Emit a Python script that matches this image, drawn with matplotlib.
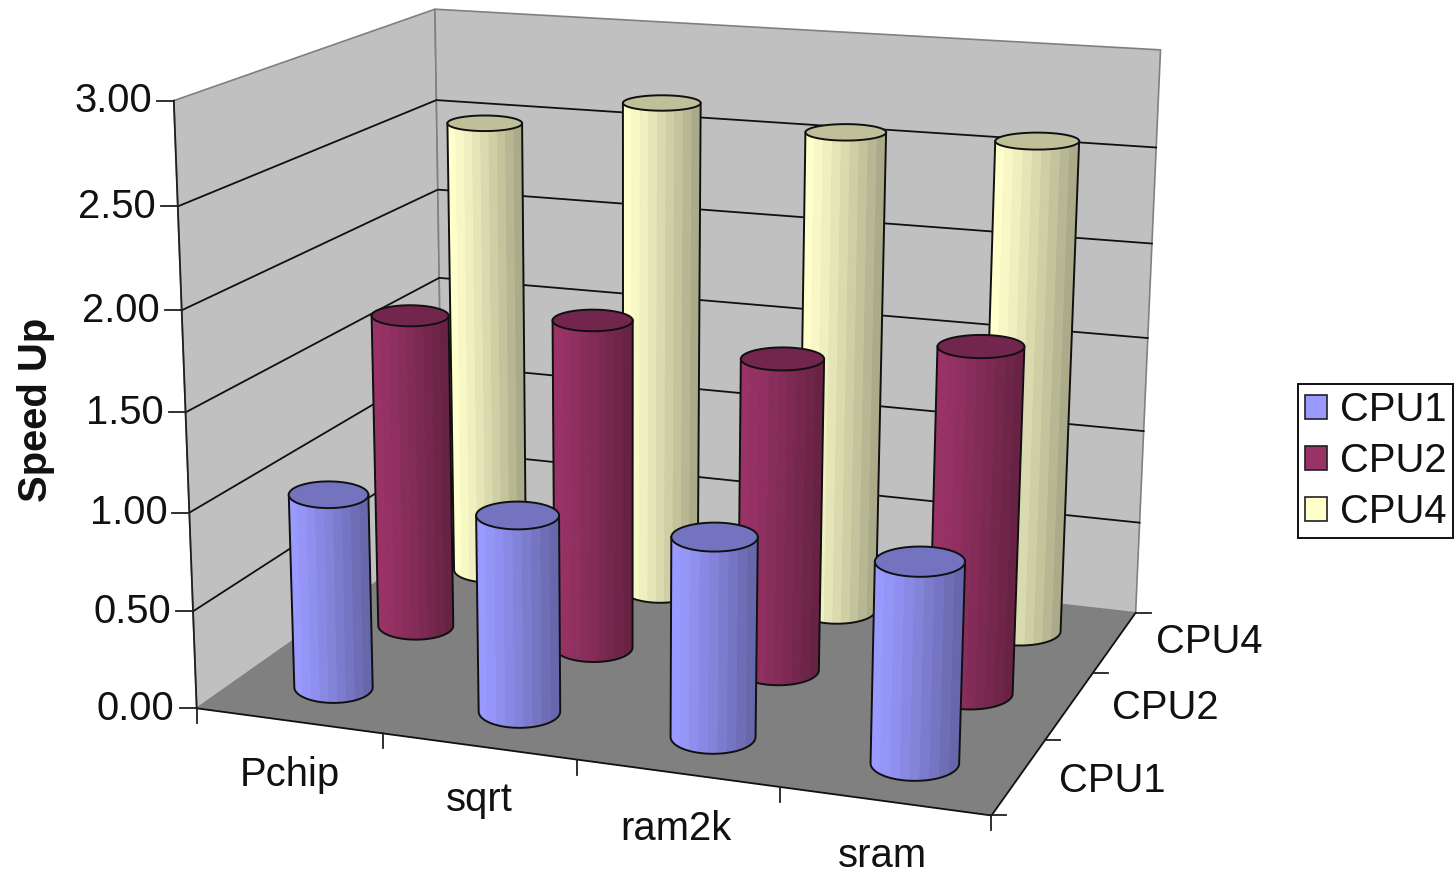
import numpy as np
import matplotlib
matplotlib.use("Agg")
import matplotlib.pyplot as plt
from matplotlib.patches import Polygon, Patch

plt.rcParams['font.family'] = ['Liberation Sans', 'DejaVu Sans']

categories = ["Pchip", "sqrt", "ram2k", "sram"]
series_names = ["CPU1", "CPU2", "CPU4"]
cpu1 = [1.00, 1.00, 1.00, 0.99]
cpu2 = [1.67, 1.73, 1.62, 1.77]
cpu4 = [2.49, 2.66, 2.57, 2.59]
series_values = [cpu1, cpu2, cpu4]
y_ticks = [0.0, 0.5, 1.0, 1.5, 2.0, 2.5, 3.0]
series_colors = ["#9999FF", "#993366", "#FFFFCC"]

# camera calibration: box corners (cat, series, value) -> screen position
world = np.array([(0,0,0),(4,0,0),(4,3,0),(0,3,0),(0,0,3),(0,3,3),(4,3,3),(0,3,1.5),(4,3,1.5)], float)
screen = np.array([(197,708),(992,816),(1136,611),(438,540),(173,101),(436,9),(1158,50),(437,276),(1148,338)], float)
weights = [4, 2, 1, 1, 3, 3, 1, 1, 1]
A = []
b = []
for (X, Y, Z), (u, v), w in zip(world, screen, weights):
    A.append([w*c for c in [X, Y, Z, 1, 0, 0, 0, 0, -u*X, -u*Y, -u*Z]]); b.append(w*u)
    A.append([w*c for c in [0, 0, 0, 0, X, Y, Z, 1, -v*X, -v*Y, -v*Z]]); b.append(w*v)
h = np.linalg.lstsq(np.array(A), np.array(b), rcond=None)[0]
P = np.append(h, 1).reshape(3, 4)


def proj(x, y, z):
    x, y, z = np.broadcast_arrays(np.asarray(x, float), np.asarray(y, float), np.asarray(z, float))
    q = P @ np.stack([x, y, z, np.ones_like(x)])
    return np.stack([q[0]/q[2], q[1]/q[2]], axis=-1)


fig = plt.figure(figsize=(14.54, 8.75), dpi=100)
ax = fig.add_axes([0, 0, 1, 1])
ax.set_xlim(0, 1454)
ax.set_ylim(875, 0)
ax.axis('off')

TOP = 3.0
FS = 28.8
NC, NS = len(categories), len(series_names)


def face(pts, color, ec='none', lw=0, z=1):
    ax.add_patch(Polygon(proj(*np.array(pts, float).T), closed=True, fc=color, ec=ec, lw=lw, zorder=z))


WALL = '#C0C0C0'
EDGE = '#808080'
face([(0,0,0),(0,NS,0),(0,NS,TOP),(0,0,TOP)], WALL, EDGE, 1.2)
face([(0,NS,0),(NC,NS,0),(NC,NS,TOP),(0,NS,TOP)], WALL, EDGE, 1.2)
face([(0,0,0),(NC,0,0),(NC,NS,0),(0,NS,0)], EDGE, 'none', 0, z=2)

for v in y_ticks:
    a, c, d = proj(0, 0, v), proj(0, NS, v), proj(NC, NS, v)
    if 0 < v < TOP:
        ax.plot([a[0], c[0], d[0]], [a[1], c[1], d[1]], color='#101010', lw=1.3, zorder=3)
    ax.plot([a[0]-17, a[0]], [a[1], a[1]], color='#202020', lw=1.3, zorder=3)
    ax.text(a[0]-22, a[1]+0.5, f"{v:.2f}", ha='right', va='center', fontsize=FS, color='#111111', zorder=6)

# axis lines and ticks
l = proj([0, 0], [0, 0], [0, TOP])
ax.plot(l[:, 0], l[:, 1], color='#202020', lw=1.3, zorder=3)
l = proj([0, NC, NC], [0, 0, NS], [0, 0, 0])
ax.plot(l[:, 0], l[:, 1], color='#101010', lw=1.3, zorder=3)
for i in range(NC + 1):
    a = proj(i, 0, 0)
    ax.plot([a[0], a[0]], [a[1], a[1]+15], color='#202020', lw=1.3, zorder=3)
for j in range(NS + 1):
    a = proj(NC, j, 0)
    ax.plot([a[0], a[0]+15], [a[1], a[1]], color='#202020', lw=1.3, zorder=3)

cat_off = [(1, 65), (0, 65), (-2, 67), (-2, 66)]
for i, name in enumerate(categories):
    a = proj(i + .5, 0, 0)
    ax.text(a[0]+cat_off[i][0], a[1]+cat_off[i][1], name, ha='center', va='baseline', fontsize=FS, color='#111111')
ser_off = [(93, 4), (96, 2), (95, 0)]
for j, name in enumerate(series_names):
    a = proj(NC, j + .5, 0)
    ax.text(a[0]+ser_off[j][0], a[1]+ser_off[j][1], name, ha='center', va='center', fontsize=FS, color='#111111')

ax.text(36, 410, "Speed Up", rotation=90, ha='center', va='center', fontsize=FS, fontweight='bold', color='#111111')


def shade(color, f):
    return tuple(f*c for c in matplotlib.colors.to_rgb(color))


def semi_axes(i, j, z, rx, ry):
    cx, cy = i + .5, j + .5
    a = abs(proj(cx+rx, cy, z)[0] - proj(cx-rx, cy, z)[0]) / 2
    bb = abs(proj(cx, cy+ry, z)[1] - proj(cx, cy-ry, z)[1]) / 2
    return a, bb


def cylinder(i, j, value, color, z, rx=0.215, ry=0.24, bands=9):
    c0 = proj(i + .5, j + .5, 0)
    c1 = proj(i + .5, j + .5, value)
    a0, b0 = semi_axes(i, j, 0, rx, ry)
    a1, b1 = semi_axes(i, j, value, rx, ry)
    edges = np.linspace(-1, 1, bands + 1)
    for k in range(bands):
        u = np.linspace(edges[k], edges[k+1], 8)
        bottom = np.c_[c0[0] + a0*u, c0[1] + b0*np.sqrt(np.clip(1-u*u, 0, 1))]
        top = np.c_[c1[0] + a1*u, c1[1] + b1*np.sqrt(np.clip(1-u*u, 0, 1))]
        col = shade(color, 1.0 - 0.33*(k/(bands-1))**1.2)
        ax.add_patch(Polygon(np.vstack([bottom, top[::-1]]), closed=True, fc=col, ec=col, lw=0.5, zorder=z))
    t = np.linspace(0, np.pi, 60)
    arc = np.c_[c0[0] - a0*np.cos(t), c0[1] + b0*np.sin(t)]
    outline = np.vstack([[c1[0]-a1, c1[1]], arc, [c1[0]+a1, c1[1]]])
    ax.plot(outline[:, 0], outline[:, 1], color='#101010', lw=1.4, zorder=z+.1, solid_joinstyle='round')
    t = np.linspace(0, 2*np.pi, 90, endpoint=False)
    ax.add_patch(Polygon(np.c_[c1[0] + a1*np.cos(t), c1[1] + b1*np.sin(t)], closed=True,
                         fc=shade(color, 0.75), ec='#101010', lw=1.4, zorder=z+.2))


for j in reversed(range(NS)):
    for i in range(NC):
        cylinder(i, j, series_values[j][i], series_colors[j], z=4 + (NS-j)*0.5 + i*0.01)

handles = [Patch(fc=c, ec='#202020', lw=1.2) for c in series_colors]
leg = ax.legend(handles, series_names, loc='upper right', bbox_to_anchor=(1453/1454, 1-384/875),
                fontsize=FS, frameon=True, fancybox=False, framealpha=1, edgecolor='#101010',
                handlelength=0.55, handleheight=0.55, handletextpad=0.32, labelspacing=0.33,
                borderpad=0.17, borderaxespad=0)
leg.get_frame().set_linewidth(1.4)
leg.set_zorder(10)
for tx in leg.get_texts():
    tx.set_color('#111111')

fig.savefig("out.png", dpi=100, facecolor='white')
